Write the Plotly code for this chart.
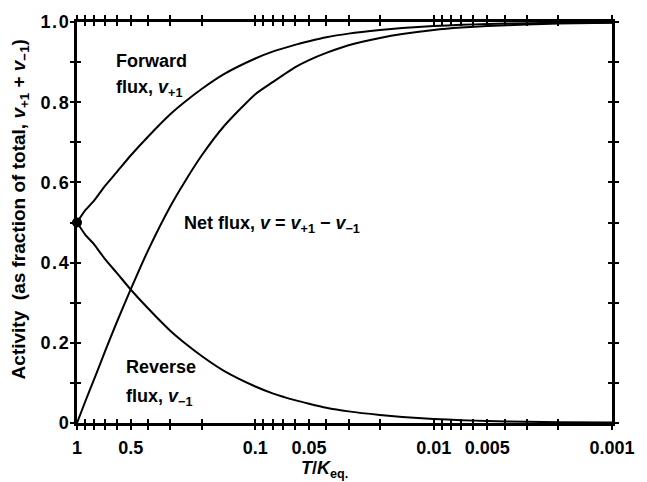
import plotly.graph_objects as go

# Data
ratio = [1, 0.9, 0.8, 0.7, 0.6, 0.5, 0.4, 0.3, 0.25, 0.2, 0.15, 0.1, 0.08, 0.06, 0.05,
         0.04, 0.03, 0.02, 0.015, 0.01, 0.007, 0.005, 0.003, 0.002, 0.001]
forward = [0.50, 0.53, 0.555, 0.59, 0.625, 0.667, 0.714, 0.77, 0.80, 0.833, 0.87, 0.909, 0.926,
           0.943, 0.952, 0.962, 0.971, 0.980, 0.985, 0.990, 0.993, 0.995, 0.997, 0.998, 0.999]
reverse = [0.50, 0.47, 0.445, 0.41, 0.375, 0.333, 0.286, 0.23, 0.20, 0.167, 0.13, 0.091, 0.074,
           0.057, 0.048, 0.038, 0.029, 0.020, 0.015, 0.010, 0.007, 0.005, 0.003, 0.002, 0.001]
net = [0.0, 0.053, 0.11, 0.176, 0.25, 0.333, 0.43, 0.54, 0.60, 0.667, 0.74, 0.82, 0.85,
       0.887, 0.905, 0.923, 0.942, 0.96, 0.97, 0.98, 0.986, 0.99, 0.994, 0.996, 0.998]

x_major_vals = [1, 0.5, 0.1, 0.05, 0.01, 0.005, 0.001]
x_major_text = ["1", "0.5", "0.1", "0.05", "0.01", "0.005", "0.001"]
x_minor_vals = [0.9, 0.8, 0.7, 0.6, 0.4, 0.3, 0.2,
                0.09, 0.08, 0.07, 0.06, 0.04, 0.03, 0.02,
                0.009, 0.008, 0.007, 0.006, 0.004, 0.003, 0.002]
y_major_vals = [0, 0.2, 0.4, 0.6, 0.8, 1.0]
y_major_text = ["0", "0.2", "0.4", "0.6", "0.8", "1.0"]
y_minor_vals = [0.1, 0.3, 0.5, 0.7, 0.9]
y_tick_text = [t.replace(".", "\u200a.\u200a") for t in y_major_text]

FONT = "Liberation Sans, Arial, sans-serif"
line = dict(color="black", width=2, shape="spline", smoothing=0.6)

fig = go.Figure()
fig.add_trace(go.Scatter(x=ratio, y=forward, mode="lines", line=line, showlegend=False))
fig.add_trace(go.Scatter(x=ratio, y=reverse, mode="lines", line=line, showlegend=False))
fig.add_trace(go.Scatter(x=ratio, y=net, mode="lines", line=line, showlegend=False))
fig.add_trace(go.Scatter(x=[ratio[0]], y=[forward[0]], mode="markers",
                         marker=dict(color="black", size=10), showlegend=False, cliponaxis=False))
# invisible trace to activate overlay axes (ticks on the other side of the axis line)
fig.add_trace(go.Scatter(x=[1], y=[0], xaxis="x2", yaxis="y2", mode="markers",
                         marker=dict(opacity=0), showlegend=False, hoverinfo="skip"))

xcommon = dict(type="log", range=[0, -3], tickmode="array", tickvals=x_major_vals,
               showgrid=False, zeroline=False, showline=True, linecolor="black", linewidth=2.5,
               mirror="allticks", ticklen=4, tickwidth=2, tickcolor="black")
ycommon = dict(range=[0, 1], tickmode="array", tickvals=y_major_vals,
               showgrid=False, zeroline=False, showline=True, linecolor="black", linewidth=2.5,
               mirror="allticks", ticklen=4, tickwidth=2, tickcolor="black")


def minor(vals, side):
    return dict(tickmode="array", tickvals=vals, ticks=side, ticklen=4, tickwidth=2,
                tickcolor="black", showgrid=False)


tick_font = dict(size=18, family=FONT, color="black", weight="bold")
fig.update_layout(
    width=647, height=482,
    margin=dict(l=77, r=32, t=20, b=59),
    plot_bgcolor="white", paper_bgcolor="white",
    font=dict(family=FONT, size=18, color="black"),
    xaxis=dict(**xcommon, ticks="outside", ticktext=x_major_text, tickfont=tick_font,
               ticklabelstandoff=3, minor=minor(x_minor_vals, "outside")),
    yaxis=dict(**ycommon, ticks="inside", ticktext=y_tick_text, tickfont=tick_font,
               ticklabelstandoff=2, minor=minor(y_minor_vals, "inside")),
    xaxis2=dict(**xcommon, ticks="inside", overlaying="x", showticklabels=False,
                minor=minor(x_minor_vals, "inside")),
    yaxis2=dict(**ycommon, ticks="outside", overlaying="y", showticklabels=False,
                minor=minor(y_minor_vals, "outside")),
)


def label(text, px, py, xanchor="left", size=18, angle=0):
    fig.add_annotation(x=(px - 77) / 538, y=(423 - py) / 403, xref="paper", yref="paper",
                       xanchor=xanchor, yanchor="middle", text=text, showarrow=False,
                       textangle=angle,
                       font=dict(family=FONT, size=size, color="black", weight="bold"))


label("Forward", 114, 59)
label("flux, <i>v</i><sub>+1</sub>", 114, 87)
label("Reverse", 124, 367)
label("flux, <i>v</i><sub>−1</sub>", 124, 397)
label("Net flux, <i>v</i> = <i>v</i><sub>+1</sub> − <i>v</i><sub>−1</sub>", 183, 224)
label("<i>T</i>/<i>K</i><sub>eq.</sub>", 326, 470, xanchor="center")
label("Activity  (as fraction of total, <i>v</i><sub>+1</sub> + <i>v</i><sub>−1</sub>)", 20, 208,
      xanchor="center", size=19, angle=-90)

fig.write_html("out.html")
